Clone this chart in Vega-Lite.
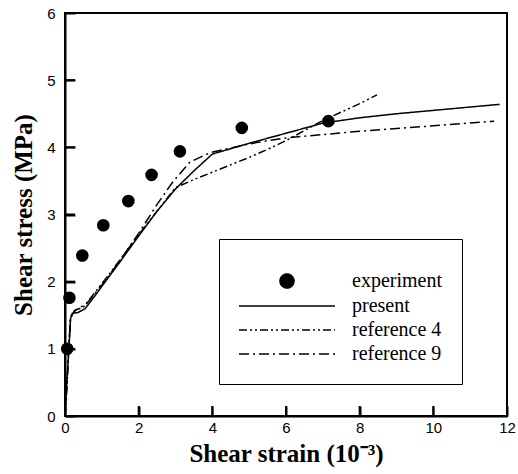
{
  "$schema": "https://vega.github.io/schema/vega-lite/v6.json",
  "width": 442,
  "height": 403,
  "autosize": "none",
  "padding": {"left": 65, "top": 13, "right": 11, "bottom": 58},
  "background": "white",
  "config": {
    "view": {"stroke": "black", "strokeWidth": 2},
    "mark": {"color": "black"},
    "tick": {"thickness": 2, "bandSize": 20}
  },
  "datasets": {
    "lines": [
      {"series": "present", "x": 0, "y": 0},
      {"series": "present", "x": 0.05, "y": 0.5},
      {"series": "present", "x": 0.1, "y": 0.95},
      {"series": "present", "x": 0.15, "y": 1.45},
      {"series": "present", "x": 0.2, "y": 1.53},
      {"series": "present", "x": 0.35, "y": 1.54},
      {"series": "present", "x": 0.55, "y": 1.6},
      {"series": "present", "x": 0.8, "y": 1.78},
      {"series": "present", "x": 1.0, "y": 1.93},
      {"series": "present", "x": 1.5, "y": 2.3},
      {"series": "present", "x": 2.0, "y": 2.68},
      {"series": "present", "x": 2.5, "y": 3.05},
      {"series": "present", "x": 3.0, "y": 3.38},
      {"series": "present", "x": 3.5, "y": 3.65},
      {"series": "present", "x": 4.0, "y": 3.9},
      {"series": "present", "x": 5.0, "y": 4.06},
      {"series": "present", "x": 6.0, "y": 4.21},
      {"series": "present", "x": 7.0, "y": 4.36},
      {"series": "present", "x": 8.0, "y": 4.44},
      {"series": "present", "x": 9.0, "y": 4.5},
      {"series": "present", "x": 10.0, "y": 4.55},
      {"series": "present", "x": 11.0, "y": 4.6},
      {"series": "present", "x": 11.8, "y": 4.64},
      {"series": "reference 4", "x": 0, "y": 0},
      {"series": "reference 4", "x": 0.05, "y": 0.4},
      {"series": "reference 4", "x": 0.1, "y": 0.95},
      {"series": "reference 4", "x": 0.15, "y": 1.45},
      {"series": "reference 4", "x": 0.25, "y": 1.57},
      {"series": "reference 4", "x": 0.5, "y": 1.62},
      {"series": "reference 4", "x": 1.0, "y": 1.97},
      {"series": "reference 4", "x": 1.5, "y": 2.33},
      {"series": "reference 4", "x": 2.0, "y": 2.7},
      {"series": "reference 4", "x": 2.5, "y": 3.05},
      {"series": "reference 4", "x": 3.0, "y": 3.4},
      {"series": "reference 4", "x": 3.5, "y": 3.52},
      {"series": "reference 4", "x": 4.0, "y": 3.63},
      {"series": "reference 4", "x": 4.5, "y": 3.74},
      {"series": "reference 4", "x": 5.0, "y": 3.85},
      {"series": "reference 4", "x": 5.5, "y": 3.97},
      {"series": "reference 4", "x": 6.0, "y": 4.1},
      {"series": "reference 4", "x": 7.0, "y": 4.4},
      {"series": "reference 4", "x": 8.0, "y": 4.65},
      {"series": "reference 4", "x": 8.47, "y": 4.78},
      {"series": "reference 9", "x": 0, "y": 0},
      {"series": "reference 9", "x": 0.05, "y": 0.45},
      {"series": "reference 9", "x": 0.1, "y": 1.0},
      {"series": "reference 9", "x": 0.15, "y": 1.48},
      {"series": "reference 9", "x": 0.3, "y": 1.58},
      {"series": "reference 9", "x": 0.6, "y": 1.68},
      {"series": "reference 9", "x": 1.0, "y": 1.95},
      {"series": "reference 9", "x": 1.5, "y": 2.32},
      {"series": "reference 9", "x": 2.0, "y": 2.72},
      {"series": "reference 9", "x": 2.5, "y": 3.15},
      {"series": "reference 9", "x": 2.92, "y": 3.48},
      {"series": "reference 9", "x": 3.39, "y": 3.78},
      {"series": "reference 9", "x": 3.94, "y": 3.92},
      {"series": "reference 9", "x": 4.5, "y": 3.99},
      {"series": "reference 9", "x": 5.0, "y": 4.05},
      {"series": "reference 9", "x": 5.5, "y": 4.1},
      {"series": "reference 9", "x": 6.0, "y": 4.14},
      {"series": "reference 9", "x": 7.0, "y": 4.19},
      {"series": "reference 9", "x": 8.0, "y": 4.24},
      {"series": "reference 9", "x": 9.0, "y": 4.28},
      {"series": "reference 9", "x": 10.0, "y": 4.32},
      {"series": "reference 9", "x": 11.65, "y": 4.39}
    ],
    "exp": [
      {"series": "experiment", "x": 0.06, "y": 1.0},
      {"series": "experiment", "x": 0.12, "y": 1.76},
      {"series": "experiment", "x": 0.47, "y": 2.39},
      {"series": "experiment", "x": 1.04, "y": 2.84},
      {"series": "experiment", "x": 1.72, "y": 3.2},
      {"series": "experiment", "x": 2.35, "y": 3.59},
      {"series": "experiment", "x": 3.12, "y": 3.94},
      {"series": "experiment", "x": 4.8, "y": 4.29},
      {"series": "experiment", "x": 7.15, "y": 4.39}
    ],
    "xticks": [
      {"x": 2, "y": 0}, {"x": 4, "y": 0}, {"x": 6, "y": 0}, {"x": 8, "y": 0}, {"x": 10, "y": 0}
    ],
    "yticks": [
      {"x": 0, "y": 1}, {"x": 0, "y": 2}, {"x": 0, "y": 3}, {"x": 0, "y": 4}, {"x": 0, "y": 5}
    ]
  },
  "encoding": {
    "x": {
      "field": "x", "type": "quantitative",
      "scale": {"domain": [0, 12], "nice": false, "zero": false},
      "axis": {
        "title": "Shear strain (10⁻³)",
        "tickCount": 6,
        "grid": false,
        "domainColor": "black", "domainWidth": 2,
        "ticks": true, "tickSize": -10, "tickWidth": 2, "tickColor": "black",
        "labelFlush": false, "labelPadding": 14,
        "labelFont": "Liberation Sans", "labelFontSize": 15, "labelColor": "black",
        "titleFont": "Liberation Serif", "titleFontWeight": "bold", "titleFontSize": 25, "titleColor": "black",
        "titlePadding": 6
      }
    },
    "y": {
      "field": "y", "type": "quantitative",
      "scale": {"domain": [0, 6], "nice": false, "zero": false},
      "axis": {
        "title": "Shear stress (MPa)",
        "tickCount": 6,
        "grid": false,
        "domainColor": "black", "domainWidth": 2,
        "ticks": true, "tickSize": -10, "tickWidth": 2, "tickColor": "black",
        "labelFlush": false, "labelPadding": 20,
        "labelFont": "Liberation Sans", "labelFontSize": 15, "labelColor": "black",
        "titleFont": "Liberation Serif", "titleFontWeight": "bold", "titleFontSize": 25, "titleColor": "black",
        "titlePadding": 10
      }
    }
  },
  "layer": [
    {
      "data": {"name": "lines"},
      "mark": {"type": "line", "strokeWidth": 1.5, "clip": true},
      "encoding": {
        "detail": {"field": "series"},
        "order": {"field": "x", "type": "quantitative"},
        "strokeDash": {
          "field": "series", "type": "nominal",
          "scale": {
            "domain": ["experiment", "present", "reference 4", "reference 9"],
            "range": [[1, 0], [1, 0], [8, 3, 2, 3, 2, 3], [10, 4, 2, 4]]
          },
          "legend": {
            "title": " ",
            "titleFontSize": 8,
            "titlePadding": 4,
            "orient": "none",
            "legendX": 154,
            "legendY": 226,
            "padding": 20,
            "strokeColor": "black",
            "fillColor": "white",
            "symbolSize": 144,
            "symbolStrokeWidth": 1.5,
            "symbolStrokeColor": "black",
            "symbolOffset": -10,
            "labelOffset": 103,
            "labelFont": "Liberation Serif",
            "labelFontSize": 20,
            "labelColor": "black",
            "rowPadding": 4,
            "encode": {
              "symbols": {
                "update": {
                  "shape": {"signal": "datum.value === 'experiment' ? 'M6.833,0A1.167,1.167,0,1,1,9.167,0A1.167,1.167,0,1,1,6.833,0Z' : 'M0,0L16,0'"},
                  "fill": {"signal": "datum.value === 'experiment' ? 'black' : 'transparent'"},
                  "stroke": {"value": "black"},
                  "strokeWidth": {"value": 1.5}
                }
              }
            }
          }
        }
      }
    },
    {
      "data": {"name": "exp"},
      "mark": {"type": "point", "shape": "circle", "filled": true, "size": 160, "opacity": 1, "color": "black"},
      "encoding": {}
    },
    {
      "data": {"name": "xticks"},
      "mark": {"type": "tick", "orient": "vertical", "size": 20, "thickness": 2, "clip": true, "color": "black", "opacity": 1},
      "encoding": {}
    },
    {
      "data": {"name": "yticks"},
      "mark": {"type": "tick", "orient": "horizontal", "size": 20, "thickness": 2, "clip": true, "color": "black", "opacity": 1},
      "encoding": {}
    }
  ]
}
